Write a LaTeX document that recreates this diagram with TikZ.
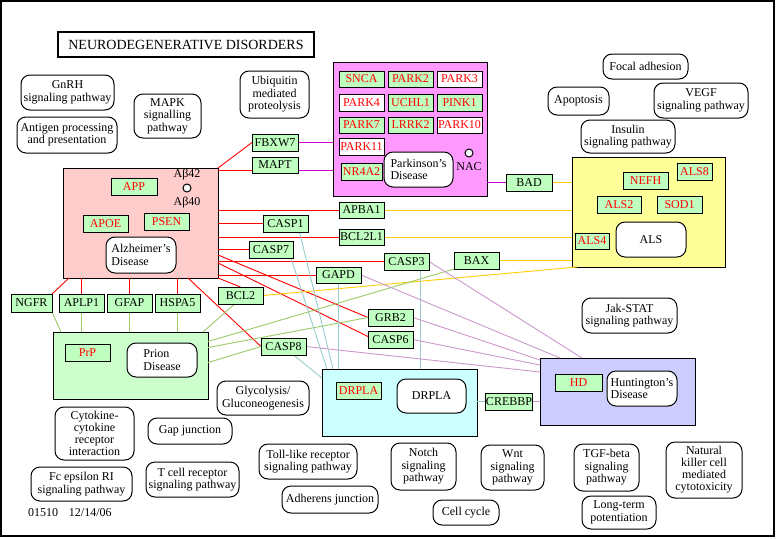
\documentclass[tikz,border=0pt]{standalone}
\usepackage{fontspec}
\setmainfont{Liberation Serif}
\usetikzlibrary{calc}

\definecolor{genegreen}{HTML}{BFFFBF}
\definecolor{alzfill}{HTML}{FFCCCC}
\definecolor{parkfill}{HTML}{FF99FF}
\definecolor{alsfill}{HTML}{FFFF99}
\definecolor{prionfill}{HTML}{CCFFCC}
\definecolor{drplafill}{HTML}{CCFFFF}
\definecolor{hdfill}{HTML}{CCCCFF}
\definecolor{lnmag}{HTML}{CC00CC}
\definecolor{lnyel}{HTML}{FFCC00}
\definecolor{lngrn}{HTML}{99CC66}
\definecolor{lncya}{HTML}{99CCCC}
\definecolor{lnpur}{HTML}{CC99CC}

\pgfdeclarelayer{back}
\pgfdeclarelayer{links}
\pgfsetlayers{back,links,main}

\tikzset{
  every node/.style={font=\fontsize{12}{12.5}\selectfont, inner sep=0pt, outer sep=0pt},
  gene/.style={draw=black, fill=genegreen, line width=1pt},
  dgene/.style={gene, text=red},
  wgene/.style={draw=black, fill=white, text=red, line width=1pt},
  pathway/.style={draw=black, fill=white, rounded corners=9pt, align=center, line width=1pt},
  dlabel/.style={pathway, align=left},
  disease/.style={draw=black, line width=1pt},
  conn/.style={line width=0.9pt},
  redl/.style={conn, draw=red},
  magl/.style={conn, draw=lnmag},
  yell/.style={conn, draw=lnyel},
  grnl/.style={conn, draw=lngrn},
  cyal/.style={conn, draw=lncya},
  purl/.style={conn, draw=lnpur},
}

% box given by its corners: style, name, x1, y1, x2, y2, text
\newcommand{\kbox}[7]{\node[#1, minimum width={(#5-#3)*1pt}, minimum height={(#6-#4)*1pt}] (#2) at ({(#3+#5)/2},{(#4+#6)/2}) {#7};}

\begin{document}
\begin{tikzpicture}[x=1pt, y=-1pt]
\begin{pgfonlayer}{back}
\fill[white] (0,0) rectangle (778,538);
% disease compartments
\kbox{disease, fill=alzfill}{alz}{63}{168}{218}{278}{}
\kbox{disease, fill=parkfill}{park}{333}{62}{487}{196}{}
\kbox{disease, fill=alsfill}{als}{572}{157}{725}{267}{}
\kbox{disease, fill=prionfill}{prion}{53}{332}{208}{399}{}
\kbox{disease, fill=drplafill}{drpla}{322}{369}{477}{436}{}
\kbox{disease, fill=hdfill}{hd}{540}{358}{695}{425}{}
\end{pgfonlayer}
\useasboundingbox (0,0) rectangle (778,538);
\draw[line width=2pt] (1,1) rectangle (774,536);

% title
\kbox{draw=black, line width=2pt, font=\fontsize{14}{16}\selectfont}{title}{58}{32}{314}{57}{NEURODEGENERATIVE DISORDERS}

% genes outside the compartments
\kbox{gene}{fbxw7}{252}{134}{298}{151}{FBXW7}
\kbox{gene}{mapt}{252}{157}{298}{173}{MAPT}
\kbox{gene}{bad}{506}{174}{552}{191}{BAD}
\kbox{gene}{apba1}{339}{202}{384}{218}{APBA1}
\kbox{gene}{casp1}{263}{215}{308}{232}{CASP1}
\kbox{gene}{bcl2l1}{339}{229}{384}{245}{BCL2L1}
\kbox{gene}{casp7}{249}{241}{293}{258}{CASP7}
\kbox{gene}{casp3}{384}{253}{429}{270}{CASP3}
\kbox{gene}{bax}{454}{252}{499}{269}{BAX}
\kbox{gene}{gapd}{316}{267}{361}{283}{GAPD}
\kbox{gene}{bcl2}{218}{287}{263}{304}{BCL2}
\kbox{gene}{grb2}{368}{309}{413}{326}{GRB2}
\kbox{gene}{casp6}{368}{331}{413}{348}{CASP6}
\kbox{gene}{casp8}{261}{338}{306}{355}{CASP8}
\kbox{gene}{ngfr}{11}{294}{52}{312}{NGFR}
\kbox{gene}{aplp1}{59}{294}{104}{312}{APLP1}
\kbox{gene}{gfap}{107}{294}{152}{312}{GFAP}
\kbox{gene}{hspa5}{155}{294}{200}{312}{HSPA5}
\kbox{gene}{crebbp}{486}{393}{532}{410}{CREBBP}

\coordinate (maptL) at ($(mapt.west)+(0,5)$);
\coordinate (maptR) at ($(mapt.east)+(0,5)$);
\coordinate (c3b) at ($(casp3.south)+(14,0)$);

\begin{pgfonlayer}{links}
% Alzheimer's disease links
\draw[redl] (alz.north east) -- (fbxw7.west);
\draw[redl] (alz.east |- maptL) -- (maptL);
\draw[redl] (alz.east |- apba1.west) -- (apba1.west);
\draw[redl] (alz.east |- casp1.west) -- (casp1.west);
\draw[redl] (alz.east |- bcl2l1.west) -- (bcl2l1.west);
\draw[redl] (alz.east |- casp7.west) -- (casp7.west);
\draw[redl] (alz.east |- casp3.west) -- (casp3.west);
\draw[redl] (alz.east |- gapd.west) -- (gapd.west);
\draw[redl] ([yshift=-32pt]alz.east) -- (grb2.west);
\draw[redl] ([yshift=-40pt]alz.east) -- ([yshift=3pt]casp6.west);
\draw[redl] (alz.south east) -- (bcl2.north);
\draw[redl] ([xshift=-30pt]alz.south east) -- (casp8.west);
\draw[redl] ([xshift=6pt]alz.south west) -- (ngfr.north east);
\draw[redl] (aplp1.north) -- (aplp1.north |- alz.south);
\draw[redl] (gfap.north) -- (gfap.north |- alz.south);
\draw[redl] (hspa5.north) -- (hspa5.north |- alz.south);

% Parkinson's disease links
\draw[magl] (fbxw7.east) -- (fbxw7.east -| park.west);
\draw[magl] (maptR) -- (maptR -| park.west);
\draw[magl] (bad.west -| park.east) -- (bad.west);

% ALS links
\draw[yell] (bad.east) -- (bad.east -| als.west);
\draw[yell] (apba1.east) -- (apba1.east -| als.west);
\draw[yell] (bcl2l1.east) -- (bcl2l1.east -| als.west);
\draw[yell] (bax.east) -- (bax.east -| als.west);
\draw[yell] (bcl2.east) -- ([xshift=5pt]als.south west);

% prion disease links
\draw[grnl] (ngfr.south east) -- ([xshift=8pt]prion.north west);
\draw[grnl] (aplp1.south) -- (aplp1.south |- prion.north);
\draw[grnl] (gfap.south) -- (gfap.south |- prion.north);
\draw[grnl] (hspa5.south) -- (hspa5.south |- prion.north);
\draw[grnl] ([xshift=-6pt]bcl2.south) -- ([xshift=-5pt]prion.north east);
\draw[grnl] ([yshift=24pt]prion.east) -- (bax.south west);
\draw[grnl] ([yshift=18pt]prion.east) -- (grb2.west);
\draw[grnl] ([yshift=3pt]prion.east) -- (casp8.west);

% DRPLA links
\draw[cyal] ([xshift=14pt]casp1.south) -- ([xshift=11pt]drpla.north west);
\draw[cyal] ([xshift=-2pt]casp7.south east) -- ([xshift=5pt]drpla.north west);
\draw[cyal] (gapd.south) -- (gapd.south |- drpla.north);
\draw[cyal] (c3b) -- (c3b |- drpla.north);
\draw[cyal] ([xshift=10pt]casp8.south) -- ([yshift=-9pt]drpla.north west);
\draw[cyal] (crebbp.west -| drpla.east) -- (crebbp.west);

% Huntington's disease links
\draw[purl] (crebbp.east) -- (crebbp.east -| hd.west);
\draw[purl] (gapd.east) -- ([xshift=20pt]hd.north west);
\draw[purl] (casp3.east) -- ([xshift=42pt]hd.north west);
\draw[purl] (grb2.east) -- ([yshift=-2pt]hd.north west);
\draw[purl] (casp6.east) -- ([yshift=-7pt]hd.north west);
\draw[purl] (casp8.east) -- ([yshift=-14pt]hd.north west);
\end{pgfonlayer}

% Alzheimer's disease contents
\kbox{dgene}{app}{111}{178}{157}{195}{APP}
\kbox{dgene}{apoe}{83}{215}{128}{232}{APOE}
\kbox{dgene}{psen}{144}{213}{189}{230}{PSEN}
\kbox{dlabel}{alzd}{106}{237}{176}{273}{Alzheimer's\\Disease}
\node (ab42) at (187,175) {Aβ42};
\draw[line width=1pt, fill=white] (187,188) circle (4pt);
\node (ab40) at (187,203) {Aβ40};

% Parkinson's disease contents
\kbox{dgene}{snca}{339}{71}{384}{87}{SNCA}
\kbox{dgene}{park2}{388}{71}{433}{87}{PARK2}
\kbox{wgene}{park3}{437}{71}{482}{87}{PARK3}
\kbox{wgene}{park4}{339}{94}{384}{111}{PARK4}
\kbox{dgene}{uchl1}{388}{94}{433}{111}{UCHL1}
\kbox{dgene}{pink1}{437}{94}{482}{111}{PINK1}
\kbox{dgene}{park7}{339}{117}{384}{133}{PARK7}
\kbox{dgene}{lrrk2}{388}{117}{433}{133}{LRRK2}
\kbox{wgene}{park10}{437}{117}{482}{133}{PARK10}
\kbox{wgene}{park11}{339}{138}{384}{155}{PARK11}
\kbox{dgene}{nr4a2}{341}{163}{382}{180}{NR4A2}
\kbox{dlabel}{parkd}{384}{152}{453}{187}{Parkinson's\\Disease}
\draw[line width=1pt, fill=white] (469,153) circle (4pt);
\node (nac) at (469,167) {NAC};

% ALS contents
\kbox{dgene}{nefh}{623}{172}{668}{189}{NEFH}
\kbox{dgene}{als8}{677}{163}{712}{180}{ALS8}
\kbox{dgene}{als2}{597}{196}{641}{213}{ALS2}
\kbox{dgene}{sod1}{657}{196}{702}{213}{SOD1}
\kbox{dgene}{als4}{575}{233}{609}{249}{ALS4}
\kbox{pathway}{alsd}{616}{222}{686}{257}{ALS}

% prion disease contents
\kbox{dgene}{prp}{65}{344}{110}{361}{PrP}
\kbox{dlabel}{priond}{127}{343}{197}{377}{Prion\\Disease}

% DRPLA contents
\kbox{dgene}{drplag}{336}{382}{381}{399}{DRPLA}
\kbox{pathway}{drplad}{397}{379}{466}{413}{DRPLA}

% Huntington's disease contents
\kbox{dgene}{hdg}{555}{374}{602}{391}{HD}
\kbox{dlabel}{hdd}{607}{371}{677}{406}{Huntington's\\Disease}

% related pathway maps
\kbox{pathway}{gnrh}{21}{75}{114}{110}{GnRH\\signaling pathway}
\kbox{pathway}{antigen}{17}{117}{117}{153}{Antigen processing\\and presentation}
\kbox{pathway}{mapk}{134}{94}{201}{138}{MAPK\\signalling\\pathway}
\kbox{pathway}{ubiq}{240}{71}{309}{118}{Ubiquitin\\mediated\\proteolysis}
\kbox{pathway}{focal}{603}{54}{688}{79}{Focal adhesion}
\kbox{pathway}{apop}{548}{87}{609}{115}{Apoptosis}
\kbox{pathway}{vegf}{654}{83}{748}{118}{VEGF\\signaling pathway}
\kbox{pathway}{insulin}{581}{120}{675}{153}{Insulin\\signaling pathway}
\kbox{pathway}{jak}{582}{298}{677}{333}{Jak-STAT\\signaling pathway}
\kbox{pathway}{glyco}{217}{381}{309}{415}{Glycolysis/\\Gluconeogenesis}
\kbox{pathway, font=\fontsize{12}{12}\selectfont}{cytokine}{55}{407}{134}{460}{Cytokine-\\cytokine\\receptor\\interaction}
\kbox{pathway}{gap}{148}{418}{232}{444}{Gap junction}
\kbox{pathway}{fceps}{31}{467}{132}{501}{Fc epsilon RI\\signaling pathway}
\kbox{pathway}{tcell}{146}{462}{239}{497}{T cell receptor\\signaling pathway}
\kbox{pathway}{toll}{259}{444}{357}{479}{Toll-like receptor\\signaling pathway}
\kbox{pathway}{adherens}{282}{486}{378}{513}{Adherens junction}
\kbox{pathway}{notch}{391}{443}{456}{490}{Notch\\signaling\\pathway}
\kbox{pathway}{cellcycle}{433}{500}{499}{525}{Cell cycle}
\kbox{pathway}{wnt}{481}{445}{544}{490}{Wnt\\signaling\\pathway}
\kbox{pathway}{tgf}{574}{444}{639}{491}{TGF-beta\\signaling\\pathway}
\kbox{pathway}{ltp}{582}{496}{656}{529}{Long-term\\potentiation}
\kbox{pathway, font=\fontsize{12}{12}\selectfont}{nk}{666}{442}{742}{498}{Natural\\killer cell\\mediated\\cytotoxicity}

% map number and date
\node[anchor=west] (mapid) at (28,513) {01510\hspace{11pt}12/14/06};
\end{tikzpicture}
\end{document}
